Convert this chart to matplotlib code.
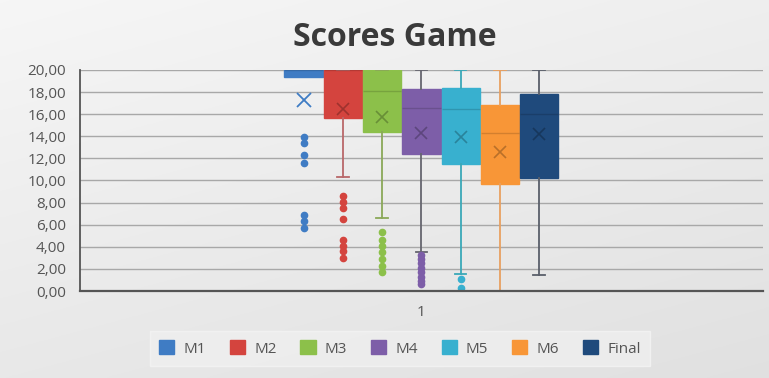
import matplotlib
matplotlib.use("Agg")
import matplotlib.pyplot as plt
from matplotlib.patches import Patch
from matplotlib.ticker import FuncFormatter
import numpy as np

series = ["M1", "M2", "M3", "M4", "M5", "M6", "Final"]
colors = ["#3f7cc4", "#d4443e", "#8cc04a", "#7d5ea8", "#38b0cf", "#f89637", "#1f4a7c"]
whisker_colors = ["#3f7cc4", "#b9686a", "#8aa858", "#66666f", "#3aa8b8", "#e8a060", "#5a5f6a"]
q1 = [19.4, 15.65, 14.4, 12.4, 11.5, 9.7, 10.2]
q3 = [20.0, 20.0, 20.0, 18.3, 18.4, 16.8, 17.8]
med = [20.0, 20.0, 18.1, 16.6, 16.5, 14.3, 16.0]
mean = [17.3, 16.5, 15.7, 14.3, 13.9, 12.6, 14.2]
whislo = [19.4, 10.3, 6.6, 3.5, 1.5, 0.0, 1.45]
whishi = [20.0, 20.0, 20.0, 20.0, 20.0, 20.0, 20.0]
outliers = [
    [13.9, 13.4, 12.3, 11.6, 6.9, 6.3, 5.7],
    [8.6, 8.1, 7.5, 6.5, 4.6, 4.1, 3.6, 3.0],
    [5.3, 4.6, 4.1, 3.5, 2.9, 2.3, 1.7],
    [3.3, 2.9, 2.5, 2.1, 1.7, 1.3, 0.9, 0.6],
    [1.1, 0.3],
    [],
    [],
]
category = "1"
yticks = [0, 2, 4, 6, 8, 10, 12, 14, 16, 18, 20]

plt.rcParams["font.family"] = ["Open Sans", "DejaVu Sans"]

fig = plt.figure(figsize=(7.69, 3.78), dpi=100)
# background gradient
bg = fig.add_axes([0, 0, 1, 1], zorder=-10)
grad = np.linspace(0, 1, 256)
img = np.zeros((256, 256, 3))
for c in range(3):
    img[:, :, c] = (0.965 - 0.055 * grad[:, None]) - 0.03 * grad[None, :]
bg.imshow(img, aspect="auto", extent=[0, 1, 0, 1], origin="upper")
bg.axis("off")

ax = fig.add_axes([0.104, 0.230, 0.888, 0.585])
ax.set_facecolor("none")

width = 0.056
positions = [1 + (i - 3) * 0.0575 for i in range(len(series))]
stats = []
for i in range(len(series)):
    stats.append(dict(med=med[i], q1=q1[i], q3=q3[i], whislo=whislo[i],
                      whishi=whishi[i], fliers=outliers[i], mean=mean[i]))

for i, s in enumerate(stats):
    b = ax.bxp([s], positions=[positions[i]], widths=width, patch_artist=True,
               showmeans=True, showfliers=True, manage_ticks=False,
               boxprops=dict(facecolor=colors[i], edgecolor=colors[i], linewidth=1),
               medianprops=dict(color="#000000", alpha=0.15, linewidth=1),
               whiskerprops=dict(color=whisker_colors[i], linewidth=1.3),
               capprops=dict(color=whisker_colors[i], linewidth=1.3),
               meanprops=dict(marker="x", markeredgecolor="#000000", alpha=0.25,
                              markersize=9, markeredgewidth=1.2) if i > 0 else
                         dict(marker="x", markeredgecolor=colors[i], markersize=10,
                              markeredgewidth=1.3),
               flierprops=dict(marker="o", markerfacecolor=colors[i],
                               markeredgecolor=colors[i], markersize=4.5))
    for cap in b["caps"]:
        x0, x1 = cap.get_xdata()
        cx = (x0 + x1) / 2
        cap.set_xdata([cx - width * 0.15, cx + width * 0.15])

ax.set_xlim(0.5, 1.5)
ax.set_ylim(0, 20)
ax.set_yticks(yticks)
ax.yaxis.set_major_formatter(FuncFormatter(lambda v, p: f"{v:.2f}".replace(".", ",")))
ax.set_xticks([1])
ax.set_xticklabels([category])
ax.grid(axis="y", color="#a8a8a8", linewidth=1)
ax.set_axisbelow(True)
for sp in ["top", "right"]:
    ax.spines[sp].set_visible(False)
ax.spines["left"].set_color("#555555")
ax.spines["bottom"].set_color("#555555")
ax.spines["left"].set_linewidth(1.3)
ax.spines["bottom"].set_linewidth(1.6)
ax.tick_params(axis="both", length=0, labelsize=11, colors="#555555")
ax.tick_params(axis="y", pad=10)
ax.tick_params(axis="x", pad=10)

fig.text(0.513, 0.9, "Scores Game", ha="center", va="center",
         fontsize=23, fontweight="bold", color="#3a3a3a")

handles = [Patch(facecolor=c, edgecolor=c) for c in colors]
leg = fig.legend(handles, series, loc="center", bbox_to_anchor=(0.52, 0.078),
                 ncol=7, frameon=True, fontsize=11, handlelength=1.0,
                 handleheight=1.0, columnspacing=1.55, handletextpad=0.6,
                 borderpad=0.6, labelcolor="#555555")
leg.get_frame().set_facecolor("#efefef")
leg.get_frame().set_edgecolor("#f4f4f4")
leg.get_frame().set_boxstyle("square", pad=0)

fig.savefig("out.png", dpi=100)
